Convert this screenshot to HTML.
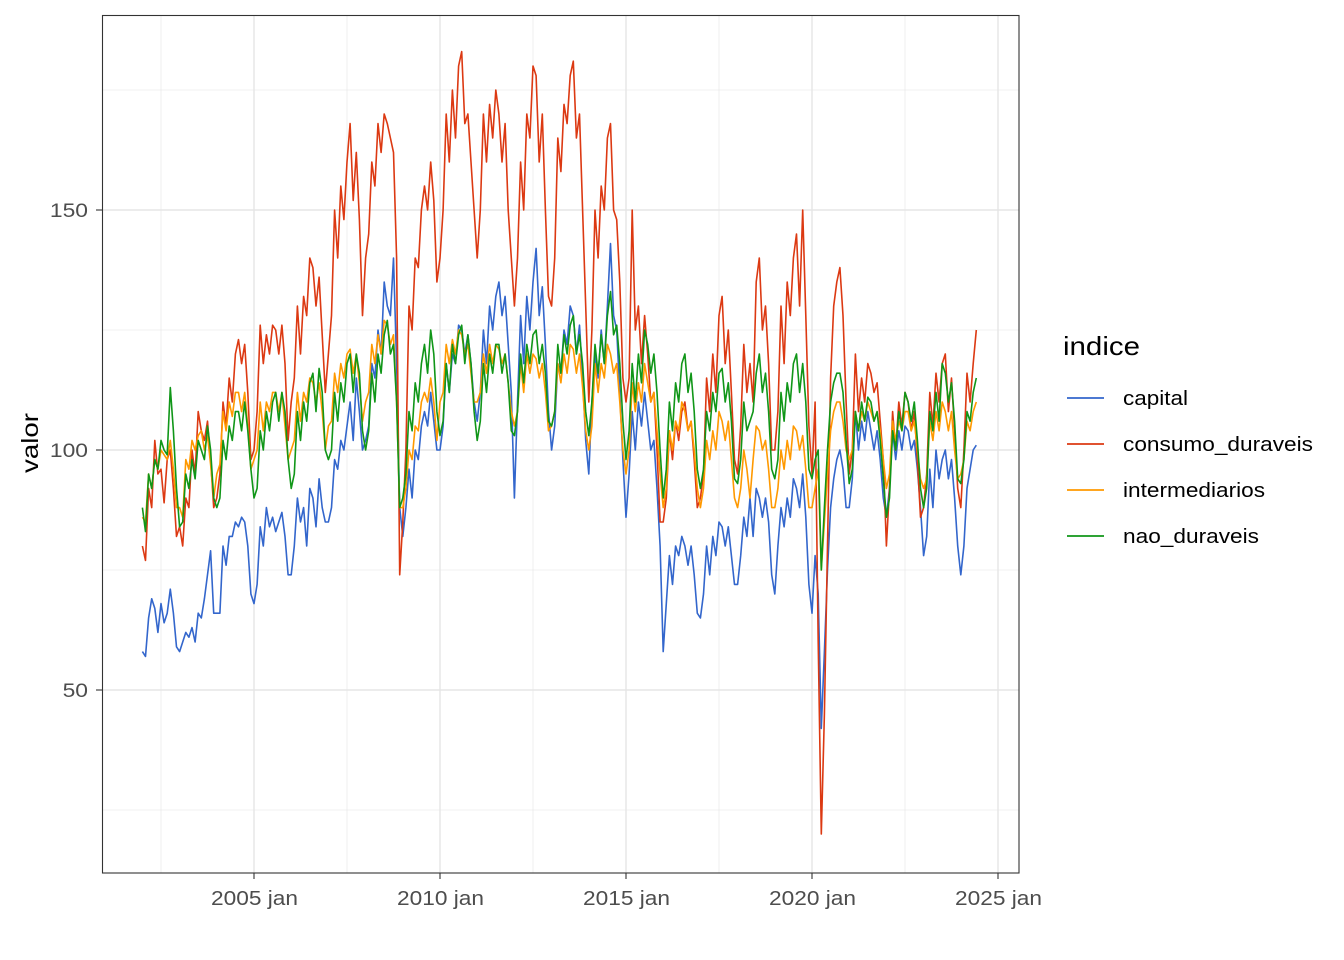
<!DOCTYPE html>
<html><head><meta charset="utf-8"><style>
html,body{margin:0;padding:0;background:#fff;}
svg{display:block;font-family:"Liberation Sans",sans-serif;}
</style></head><body>
<svg id="chart" width="1344" height="960" xmlns="http://www.w3.org/2000/svg">
<rect x="0" y="0" width="1344" height="960" fill="#fff"/>
<g id="grid"></g>
<g id="series"></g>
<rect x="102.5" y="15.5" width="916.5" height="857.5" fill="none" stroke="#333" stroke-width="1.1"/>
<g id="axes"></g>
<text x="38" y="443" transform="rotate(-90 38 443)" text-anchor="middle" font-size="23" textLength="60" lengthAdjust="spacingAndGlyphs" fill="#000">valor</text>
<g>
<text x="1063" y="355" font-size="26" textLength="77" lengthAdjust="spacingAndGlyphs" fill="#000">indice</text>
<g id="legend"></g>
</g>
</svg>
<script>
const seriesNames = ["capital","consumo_duraveis","intermediarios","nao_duraveis"];
const seriesColors = ["#3366cc","#dc3912","#ff9900","#109618"];
const yTicks = [50,100,150];
const xTickYears = [2005,2010,2015,2020,2025];
const startYear = 2002;
const capital = [
58,57,65,69,67,62,68,64,66,71,66,59,
58,60,62,61,63,60,66,65,69,74,79,66,
66,66,80,76,82,82,85,84,86,85,80,70,
68,72,84,80,88,84,86,83,85,87,82,74,
74,80,90,85,88,80,92,90,84,94,88,85,
85,88,98,96,102,100,105,110,102,115,108,100,
102,105,118,115,125,120,135,130,128,140,118,88,
82,88,96,90,100,98,105,108,105,112,106,100,
100,105,118,112,120,118,126,125,120,124,118,110,
106,112,125,118,130,125,132,135,128,132,122,112,
90,110,128,118,132,125,135,142,128,134,122,108,
100,105,118,116,125,122,130,128,120,126,115,102,
95,110,120,115,125,118,130,143,128,125,112,98,
86,95,108,100,110,105,112,106,100,102,92,80,
58,68,78,72,80,78,82,80,76,80,74,66,
65,70,80,74,82,78,85,84,80,84,78,72,
72,78,86,82,90,82,92,90,86,90,85,74,
70,80,88,84,90,86,94,92,88,95,86,72,
66,78,70,42,58,75,88,94,98,100,96,88,
88,94,108,100,106,102,108,104,100,104,98,90,
86,92,104,98,104,100,105,104,100,102,96,88,
78,82,96,88,100,94,98,100,94,98,90,80,
74,80,92,96,100,101];
const consumo_duraveis = [
80,77,92,88,102,95,96,89,98,100,92,82,
84,80,90,88,100,95,108,104,102,106,98,88,
90,95,110,105,115,110,120,123,118,122,112,98,
100,108,126,118,124,120,126,125,120,126,118,102,
110,115,130,120,132,128,140,138,130,136,124,112,
120,128,150,140,155,148,160,168,152,162,148,128,
140,145,160,155,168,162,170,168,165,162,140,74,
85,100,130,125,140,138,150,155,150,160,152,135,
140,150,170,160,175,165,180,183,168,170,160,150,
140,150,170,160,172,165,175,170,160,168,150,140,
130,140,160,150,170,165,180,178,160,170,150,132,
130,140,165,158,172,168,178,181,165,170,150,130,
110,125,150,140,155,150,165,168,150,148,135,115,
110,115,150,125,130,118,128,120,110,112,100,85,
85,90,104,98,106,102,108,110,104,106,98,88,
90,95,115,108,120,112,128,132,118,125,112,98,
95,105,122,112,118,110,135,140,125,130,118,100,
100,108,130,118,135,128,140,145,130,150,128,105,
95,110,60,20,45,80,115,130,135,138,128,110,
95,100,120,108,115,110,118,116,112,114,106,98,
80,92,108,100,110,105,112,110,104,108,98,86,
88,95,112,105,116,110,118,120,108,115,104,92,
88,100,116,110,118,125];
const intermediarios = [
86,85,95,92,98,96,100,99,98,102,96,88,
88,86,98,96,102,100,103,104,100,103,97,90,
95,97,108,104,110,107,112,112,108,112,105,96,
98,100,110,104,110,108,112,112,108,112,105,98,
100,102,112,106,112,110,115,114,110,114,108,100,
105,106,116,112,118,115,120,121,116,120,114,106,
110,112,122,118,124,120,127,126,122,124,110,88,
88,92,100,98,105,104,110,112,110,115,110,102,
110,112,122,118,123,120,125,124,120,122,116,110,
110,112,120,116,122,118,122,121,118,120,114,108,
105,108,118,112,120,116,120,119,115,118,112,104,
105,108,118,114,120,116,122,121,116,120,113,104,
100,105,118,112,118,115,122,120,116,118,110,100,
95,100,114,108,114,110,118,114,110,112,104,95,
88,92,104,100,106,104,110,108,104,106,100,92,
88,92,102,98,104,100,108,106,102,106,98,90,
88,92,100,96,90,98,105,104,100,102,96,88,
88,92,100,96,102,98,105,104,100,103,96,88,
88,92,96,75,85,95,104,108,110,110,106,100,
98,100,108,104,108,106,110,108,106,108,104,98,
92,95,106,102,106,104,108,108,104,106,100,94,
92,94,106,102,108,104,110,108,104,108,100,94,
95,98,106,104,108,110];
const nao_duraveis = [
88,83,95,92,98,96,102,100,99,113,104,92,
84,85,95,92,98,94,102,100,98,105,100,90,
88,90,102,98,105,102,108,108,104,110,104,96,
90,92,104,100,108,104,110,112,106,112,108,98,
92,95,108,102,110,106,114,116,108,117,112,100,
98,100,112,106,114,110,118,120,112,120,116,104,
100,104,116,110,120,116,124,127,120,122,110,88,
90,95,108,104,114,110,118,122,116,125,120,108,
103,106,118,112,122,118,124,126,118,124,118,108,
102,106,118,112,120,116,122,122,116,120,114,104,
103,108,120,114,122,118,124,125,118,122,116,106,
105,108,122,116,124,120,126,128,120,124,118,108,
103,110,122,116,124,118,128,133,124,126,118,106,
98,104,118,110,120,114,125,122,116,120,112,100,
90,96,110,104,114,110,118,120,112,116,108,96,
92,96,108,104,112,108,116,117,110,114,106,94,
93,98,110,104,106,108,116,120,112,116,108,96,
94,98,112,106,114,110,118,120,112,118,110,96,
94,98,100,75,88,100,110,114,116,116,112,102,
93,96,108,104,110,106,111,110,106,108,102,94,
86,90,104,100,108,104,112,110,106,110,102,92,
88,92,108,104,112,106,118,116,110,114,106,94,
93,98,108,106,112,115];
const allSeries = [capital, consumo_duraveis, intermediarios, nao_duraveis];
const legendWidths = [65,190,142,136];

const NS = "http://www.w3.org/2000/svg";
const xScale = m => 142.4 + m * 3.1;
const yScale = v => 450 - (v - 100) * 4.8;
const monthOf = yr => (yr - startYear) * 12;
function mk(tag, attrs, parent){const e=document.createElementNS(NS,tag);for(const k in attrs)e.setAttribute(k,attrs[k]);parent.appendChild(e);return e;}

const grid = document.getElementById('grid');
const axes = document.getElementById('axes');
[25,75,125,175].forEach(v=>{
  const l=mk('line',{x1:102,x2:1019,y1:yScale(v),y2:yScale(v),stroke:'#ebebeb','stroke-width':0.8},grid);
  
  
});
xTickYears.forEach(yr=>{
  const x=xScale(monthOf(yr)-30);
  const l=mk('line',{x1:x,x2:x,y1:15,y2:873,stroke:'#ebebeb','stroke-width':0.8},grid);
  
  
});
yTicks.forEach(v=>{
  const y=yScale(v);
  const l=mk('line',{x1:102,x2:1019,y1:y,y2:y,stroke:'#e5e5e5','stroke-width':1.4},grid);
  
  
  const t=mk('line',{x1:96,x2:102,y1:y,y2:y,stroke:'#333','stroke-width':1.1},axes);
  
  
  const s=String(v);
  const tx=mk('text',{x:88,y:y+7,'text-anchor':'end','font-size':19,fill:'#4d4d4d',textLength:s.length*12.7,lengthAdjust:'spacingAndGlyphs'},axes);
  tx.textContent=s;
  
  
});
xTickYears.forEach(yr=>{
  const x=xScale(monthOf(yr));
  const l=mk('line',{x1:x,x2:x,y1:15,y2:873,stroke:'#e5e5e5','stroke-width':1.4},grid);
  
  
  const t=mk('line',{x1:x,x2:x,y1:873,y2:879,stroke:'#333','stroke-width':1.1},axes);
  
  
  const tx=mk('text',{x:x-43,y:905,'font-size':20,fill:'#4d4d4d',textLength:87,lengthAdjust:'spacingAndGlyphs'},axes);
  tx.textContent=yr+' jan';
  
  
});

const sg=document.getElementById('series');
allSeries.forEach((arr,i)=>{
  const d=arr.map((v,m)=>(m?'L':'M')+xScale(m).toFixed(1)+','+yScale(v).toFixed(1)).join('');
  const p=mk('path',{d:d,fill:'none',stroke:seriesColors[i],'stroke-width':1.6,'stroke-linejoin':'round'},sg);
  
  
});

const lg=document.getElementById('legend');
seriesNames.forEach((n,i)=>{
  const y=398+i*46;
  const l=mk('line',{x1:1067,x2:1104,y1:y,y2:y,stroke:seriesColors[i],'stroke-width':1.8},lg);
  
  
  const t=mk('text',{x:1123,y:y+7,'font-size':20,fill:'#000',textLength:legendWidths[i],lengthAdjust:'spacingAndGlyphs'},lg);
  t.textContent=n;
  
  
});
</script>
</body></html>
